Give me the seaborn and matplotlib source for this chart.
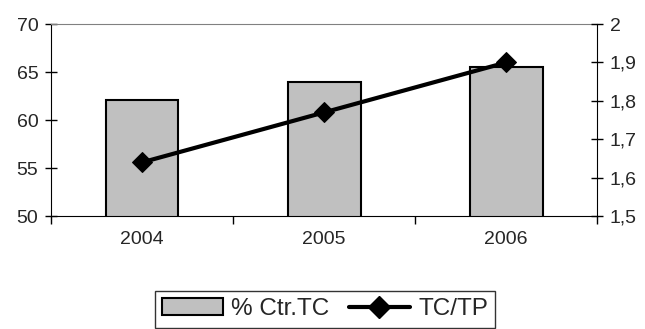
import matplotlib
matplotlib.use("Agg")
import matplotlib.pyplot as plt
import seaborn as sns
from matplotlib.patches import Patch
from matplotlib.lines import Line2D
from matplotlib.ticker import FuncFormatter

years = ["2004", "2005", "2006"]
ctr_tc = [62.1, 64.0, 65.5]
tc_tp = [1.64, 1.77, 1.90]

sns.set_style("white")
plt.rcParams["font.family"] = ["Liberation Sans", "DejaVu Sans"]

fig = plt.figure(figsize=(6.45, 3.29), dpi=100)
ax = fig.add_axes([0.079, 0.343, 0.847, 0.584])

sns.barplot(x=years, y=ctr_tc, ax=ax, color="#c0c0c0", edgecolor="black",
            linewidth=1.5, width=0.4, saturation=1)
ax.set_ylim(50, 70)
ax.set_yticks([50, 55, 60, 65, 70])
ax.set_xlim(-0.5, 2.5)

ax2 = ax.twinx()
sns.lineplot(x=years, y=tc_tp, ax=ax2, color="black", linewidth=3,
             marker="D", markersize=10, markeredgecolor="black")
ax2.set_ylim(1.5, 2.0)
ax2.set_yticks([1.5, 1.6, 1.7, 1.8, 1.9, 2.0])
ax2.yaxis.set_major_formatter(FuncFormatter(
    lambda v, p: ("%g" % round(v, 1)).replace(".", ",")))

for a in (ax, ax2):
    for s in a.spines.values():
        s.set_visible(False)
    a.set_xlabel("")
    a.set_ylabel("")

ax.spines["left"].set_visible(True)
ax.spines["left"].set_color("black")
ax.spines["bottom"].set_visible(True)
ax.spines["bottom"].set_color("black")
ax.spines["top"].set_visible(True)
ax.spines["top"].set_color("#808080")
ax2.spines["right"].set_visible(True)
ax2.spines["right"].set_color("black")

ax.tick_params(axis="y", which="major", direction="inout", length=8, width=1,
               color="black", labelsize=14, pad=5, left=True)
ax2.tick_params(axis="y", which="major", direction="inout", length=8, width=1,
                color="black", labelsize=14, pad=5, right=True)
ax.tick_params(axis="x", which="major", length=0, labelsize=14, pad=11)
ax.set_xticks([-0.5, 0.5, 1.5, 2.5], minor=True)
ax.tick_params(axis="x", which="minor", direction="out", length=6, width=1,
               color="black", bottom=True)

handles = [
    Patch(facecolor="#c0c0c0", edgecolor="black", linewidth=1.5),
    Line2D([0], [0], color="black", linewidth=3, marker="D", markersize=11),
]
leg = fig.legend(handles, ["% Ctr.TC", "TC/TP"], loc="upper center",
                 bbox_to_anchor=(0.504, 1 - 291 / 329), ncol=2, frameon=True,
                 fancybox=False, edgecolor="black", fontsize=17.5,
                 handlelength=2.5, handleheight=0.7, columnspacing=0.8,
                 handletextpad=0.35, borderpad=0.3, borderaxespad=0)
leg.get_frame().set_linewidth(1)

fig.savefig("out.png", dpi=100)
